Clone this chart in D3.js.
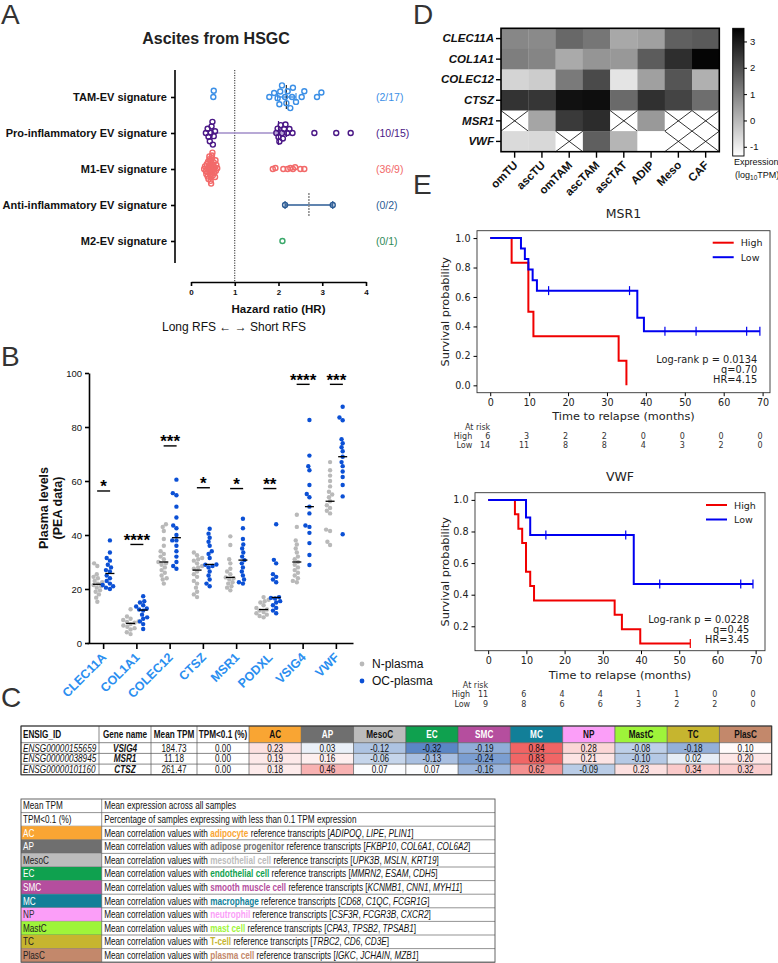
<!DOCTYPE html>
<html lang="en">
<head>
<meta charset="UTF-8">
<title>Figure</title>
<script src="https://cdn.jsdelivr.net/npm/d3@7"></script>
<style>
  body { margin: 0; background: #fff; }
  svg { display: block; }
</style>
</head>
<body>
<script>
// ---------------- panel A : hazard ratios per EV signature ----------------
const sigNames = ["TAM-EV signature", "Pro-inflammatory EV signature", "M1-EV signature",
                  "Anti-inflammatory EV signature", "M2-EV signature"];
const sigCounts = ["(2/17)", "(10/15)", "(36/9)", "(0/2)", "(0/1)"];
const sigColors = ["#3b8fe6", "#4a1786", "#f26a6a", "#2b5b94", "#3aa86a"];
const sigCountColors = ["#3b8fe6", "#4a1786", "#f26a6a", "#2b5b94", "#2e8b57"];
const sigBarColors = ["#3b8fe6", "#a08cc8", "#f26a6a", "#2b5b94", "#3aa86a"];
const hrTAM = [0.51, 0.52, 1.79, 1.90, 1.98, 2.02, 2.04, 2.08, 2.15, 2.18, 2.21, 2.27, 2.31, 2.33, 2.40, 2.53, 2.59, 2.88, 2.98];
const hrPro = [0.34, 0.38, 0.40, 0.43, 0.45, 0.47, 0.49, 0.50, 0.52, 0.55,
               1.95, 1.98, 2.00, 2.02, 2.05, 2.08, 2.10, 2.13, 2.16, 2.20, 2.25, 2.32, 2.82, 3.32, 3.65];
const hrM1 = [0.30, 0.32, 0.34, 0.35, 0.36, 0.37, 0.38, 0.39, 0.40, 0.40, 0.41, 0.42, 0.42, 0.43, 0.44, 0.44, 0.45, 0.45,
              0.46, 0.46, 0.47, 0.47, 0.48, 0.48, 0.49, 0.50, 0.50, 0.51, 0.52, 0.53, 0.54, 0.55, 0.56, 0.57, 0.58, 0.60,
              1.87, 1.93, 2.11, 2.21, 2.27, 2.33, 2.38, 2.50, 2.59];
const hrAnti = [2.15, 3.24];
const hrM2 = [2.09];
const hrGroups = [hrTAM, hrPro, hrM1, hrAnti, hrM2];
const hrTicks = [0, 1, 2, 3, 4];

// ---------------- panel B : plasma PEA levels ----------------
const plasmaProteins = ["CLEC11A", "COL1A1", "COLEC12", "CTSZ", "MSR1", "PODXL", "VSIG4", "VWF"];
const nPlasma = [
  [15.3, 16.8, 18, 19, 19.5, 20.5, 21, 21.5, 22, 22.5, 23, 24, 24.5, 25.5, 28.5, 29.5],
  [3.3, 4, 5, 5.5, 6, 6.5, 7, 7.5, 7.8, 8, 8.5, 9, 9.8, 12.5],
  [22, 23.5, 24, 25, 26, 27, 28, 29, 29.5, 30, 31, 32, 33, 34, 36, 38.5, 41.5, 43, 44],
  [17, 18, 19, 20.5, 22, 23, 24.5, 25.5, 26.5, 27.5, 28, 28.5, 29.5, 30.5, 31, 31.5, 32.5, 33.5],
  [19.5, 20.5, 21, 22, 22.5, 23.5, 24, 24.3, 25.5, 26.5, 27.5, 29.5, 31, 36.3, 39.5],
  [9.5, 10, 10.5, 11, 11.5, 12, 12.4, 13, 14, 15, 15.5, 16, 17],
  [22.5, 23, 24, 25, 26, 27, 28, 29, 30, 31, 32, 33.5, 35, 36.5, 38, 43, 47.5],
  [36.3, 37.5, 41.5, 42, 48, 49, 50, 51, 52.5, 54, 55, 56, 58, 60, 62, 64, 67]
];
const ocPlasma = [
  [20, 20.5, 21, 21.5, 22, 23, 24, 25, 26.5, 27, 28, 29, 30.5, 31.5, 33.5, 38],
  [5.2, 7, 8, 9, 9.5, 10.5, 12, 12.4, 12.8, 13.5, 14, 15, 15.5, 17.3],
  [27.5, 28.5, 30, 32, 34, 36, 38, 38, 40, 42.5, 43.5, 46.5, 50.5, 54.7, 55.5, 60.5],
  [21, 22, 23.5, 25, 26.5, 28, 28.5, 29, 29.1, 31.5, 33, 34, 36, 37.5, 39, 40.5, 42.3],
  [22, 22.5, 23.5, 25, 26.5, 28, 29.5, 30.7, 32, 33.5, 35, 36.5, 38.5, 42.5, 46],
  [11, 12, 13, 14, 15, 15.5, 16.5, 16.7, 17, 22.5, 23.5, 24.5, 25.5, 29.5, 30.8, 44],
  [28.9, 32.6, 37, 40.8, 43, 43.5, 48, 50.5, 54, 55.2, 58.5, 64, 65.5, 69.4, 82.6],
  [40.3, 54.3, 58.5, 61.5, 63.5, 65.5, 67, 69, 71, 72.5, 74, 75.5, 82.5, 83.5, 87.5]
];
const sigStars = ["*", "****", "***", "*", "*", "**", "****", "***"];
const sigBarLevels = [56.3, 36.5, 73, 57.5, 57.2, 57.2, 95.8, 95.8];
const plasmaTicks = [0, 20, 40, 60, 80, 100];

// ---------------- panel C : correlation table ----------------
const ensgIds = ["ENSG00000155659", "ENSG00000038945", "ENSG00000101160"];
const tableGenes = ["VSIG4", "MSR1", "CTSZ"];
const meanTPM = [184.73, 11.18, 261.47];
const tpmLow = [0, 0, 0];
const cellTypes = ["AC", "AP", "MesoC", "EC", "SMC", "MC", "NP", "MastC", "TC", "PlasC"];
const cellTypeColors = ["#f9a533", "#6f6f6f", "#bcbcbc", "#0fa14f", "#b54e9e", "#127f98", "#fb9ef8", "#9ef43a", "#c6b52f", "#c3886b"];
const headTextColors = ["#111", "#fff", "#111", "#fff", "#fff", "#fff", "#111", "#111", "#111", "#111"];
const legTextColors = ["#fff", "#fff", "#222", "#fff", "#fff", "#fff", "#333", "#222", "#222", "#222"];
const corrVSIG4 = [0.23, 0.03, -0.12, -0.32, -0.19, 0.84, 0.28, -0.08, -0.18, 0.10];
const corrMSR1 = [0.19, 0.16, -0.06, -0.13, -0.24, 0.83, 0.21, -0.10, 0.02, 0.20];
const corrCTSZ = [0.18, 0.46, 0.07, 0.07, -0.16, 0.62, -0.09, 0.23, 0.34, 0.32];
const corrRows = [corrVSIG4, corrMSR1, corrCTSZ];
const cellTypeNames = ["adipocyte", "adipose progenitor", "mesothelial cell", "endothelial cell", "smooth muscle cell",
                       "macrophage", "neutrophil", "mast cell", "T-cell", "plasma cell"];
const cellTypeMarkers = [["ADIPOQ", "LIPE", "PLIN1"], ["FKBP10", "COL6A1", "COL6A2"], ["UPK3B", "MSLN", "KRT19"],
                         ["MMRN2", "ESAM", "CDH5"], ["KCNMB1", "CNN1", "MYH11"], ["CD68", "C1QC", "FCGR1G"],
                         ["CSF3R", "FCGR3B", "CXCR2"], ["CPA3", "TPSB2", "TPSAB1"], ["TRBC2", "CD6", "CD3E"],
                         ["IGKC", "JCHAIN", "MZB1"]];

// ---------------- panel D : expression heatmap (log10 TPM) ----------------
const hmGenes = ["CLEC11A", "COL1A1", "COLEC12", "CTSZ", "MSR1", "VWF"];
const hmCells = ["omTU", "ascTU", "omTAM", "ascTAM", "ascTAT", "ADIP", "Meso", "CAF"];
const hmValues = [
  [0.93, 0.88, 1.52, 1.26, 0.30, 0.46, 1.67, 1.79],
  [1.10, 0.97, 0.27, 0.67, 0.61, 1.75, 2.63, 3.40],
  [-0.53, -0.38, 1.18, 2.09, -0.84, 0.46, 1.88, 0.15],
  [2.53, 2.47, 3.18, 3.23, 1.48, 2.59, 2.21, 1.41],
  [null, 0.36, 2.40, 2.66, null, 0.59, null, null],
  [-0.65, -0.61, null, 1.69, 0.06, -1.35, null, null]
];
const hmTicks = [-1, 0, 1, 2, 3];

// ---------------- panel E : Kaplan-Meier curves ----------------
const msr1HighTime = [0, 5.5, 9.8, 11.1, 33, 35];
const msr1HighSurv = [1, 0.833, 0.5, 0.333, 0.167, 0];
const msr1HighCens = [];
const msr1LowTime = [0, 7.9, 8.9, 9.8, 10.9, 12, 37.8, 39.5, 69.3];
const msr1LowSurv = [1, 0.929, 0.857, 0.786, 0.714, 0.643, 0.459, 0.367, 0.367];
const msr1LowCens = [15, 35.8, 44.9, 52.9, 65.9, 69.3];
const msr1RiskHigh = [6, 3, 2, 2, 0, 0, 0, 0];
const msr1RiskLow = [14, 11, 8, 8, 4, 3, 2, 0];
const msr1Stats = ["Log-rank p = 0.0134", "q=0.70", "HR=4.15"];
const vwfHighTime = [0, 7, 7.9, 8.9, 9.9, 11, 12, 33.1, 35, 39.8, 52.9];
const vwfHighSurv = [1, 0.909, 0.818, 0.727, 0.545, 0.455, 0.364, 0.273, 0.182, 0.091, 0.091];
const vwfHighCens = [52.9];
const vwfLowTime = [0, 9.9, 11, 38.1, 69.3];
const vwfLowSurv = [1, 0.889, 0.778, 0.467, 0.467];
const vwfLowCens = [15.1, 36, 44.9, 66.1, 69.3];
const vwfRiskHigh = [11, 6, 4, 4, 1, 1, 0, 0];
const vwfRiskLow = [9, 8, 6, 6, 3, 2, 2, 0];
const vwfStats = ["Log-rank p = 0.0228", "q=0.45", "HR=3.45"];
const monthTicks = [0, 10, 20, 30, 40, 50, 60, 70];

// ======================================================================
const ARIAL = "'Liberation Sans', Arial, sans-serif";
const DEJAVU = "'DejaVu Sans', sans-serif";

const svg = d3.select("body").append("svg")
    .attr("width", 778).attr("height", 963)
    .attr("font-family", ARIAL);
svg.append("rect").attr("width", 778).attr("height", 963).attr("fill", "#fff");

// panel letters
[["A", 1, 24], ["B", 1, 366], ["C", 1, 707], ["D", 413, 24], ["E", 413, 194]].forEach(function (p) {
    svg.append("text").attr("x", p[1]).attr("y", p[2]).attr("font-size", 28)
        .attr("fill", "#333").text(p[0]);
});

// quartiles the GraphPad way (position p*(n+1))
function quant(sorted, p) {
    const n = sorted.length, h = (n + 1) * p;
    if (h <= 1) return sorted[0];
    if (h >= n) return sorted[n - 1];
    const lo = Math.floor(h);
    return sorted[lo - 1] + (h - lo) * (sorted[lo] - sorted[lo - 1]);
}

// simple beeswarm: offsets perpendicular to the value axis
function swarm(vals, scale, d) {
    const order = vals.map(function (v, i) { return i; }).sort(function (a, b) { return vals[a] - vals[b]; });
    const placed = [], off = new Array(vals.length);
    order.forEach(function (i) {
        const p = scale(vals[i]);
        const bad = [];
        placed.forEach(function (q) {
            const dx = p - q.p;
            if (Math.abs(dx) < d) {
                const h = Math.sqrt(d * d - dx * dx);
                bad.push([q.o - h, q.o + h]);
            }
        });
        const cands = [0];
        bad.forEach(function (b) { cands.push(b[0], b[1]); });
        cands.sort(function (a, b) { return Math.abs(a) - Math.abs(b) || a - b; });
        let o = 0;
        for (const c of cands) {
            if (bad.every(function (b) { return c <= b[0] + 1e-6 || c >= b[1] - 1e-6; })) { o = c; break; }
        }
        placed.push({p: p, o: o});
        off[i] = o;
    });
    return off;
}

// ---------------------------- panel A ----------------------------
(function () {
    const g = svg.append("g");
    const x = d3.scaleLinear().domain([0, 4]).range([191, 366]);
    const y = d3.scalePoint().domain(sigNames).range([97, 241]);

    g.append("text").attr("x", 216).attr("y", 44).attr("text-anchor", "middle")
        .attr("font-size", 16).attr("font-weight", "bold").attr("fill", "#222").text("Ascites from HSGC");

    g.append("line").attr("x1", 175).attr("x2", 175).attr("y1", 70).attr("y2", 263)
        .attr("stroke", "#000").attr("stroke-width", 1.6);
    const ya = g.append("g").attr("transform", "translate(175,0)")
        .call(d3.axisLeft(y).tickSize(4).tickPadding(4));
    ya.select(".domain").remove();
    ya.selectAll("line").attr("stroke-width", 1.6);
    ya.selectAll("text").attr("font-family", ARIAL).attr("font-size", 11)
        .attr("font-weight", "bold").attr("fill", "#111");

    const xa = g.append("g").attr("transform", "translate(0,282)")
        .call(d3.axisBottom(x).tickValues(hrTicks).tickFormat(d3.format("d"))
            .tickSize(4).tickSizeOuter(0).tickPadding(3));
    xa.selectAll("path,line").attr("stroke-width", 1.6);
    xa.selectAll("text").attr("font-family", ARIAL).attr("font-size", 8)
        .attr("font-weight", "bold").attr("fill", "#111");

    g.append("line").attr("x1", x(1)).attr("x2", x(1)).attr("y1", 70).attr("y2", 282)
        .attr("stroke", "#222").attr("stroke-width", 1).attr("stroke-dasharray", "1.2,1.3");

    g.append("text").attr("x", x(2)).attr("y", 313).attr("text-anchor", "middle")
        .attr("font-size", 11.5).attr("font-weight", "bold").attr("fill", "#111").text("Hazard ratio (HR)");
    g.append("text").attr("x", 234).attr("y", 331).attr("text-anchor", "middle")
        .attr("font-size", 12).attr("fill", "#111").text("Long RFS \u2190  \u2192 Short RFS");

    const swarmD = [6.3, 4.6, 2.8, 6, 6];
    hrGroups.forEach(function (vals, i) {
        const cy = y(sigNames[i]);
        const s = vals.slice().sort(d3.ascending);
        const q1 = quant(s, 0.25), med = quant(s, 0.5), q3 = quant(s, 0.75);
        if (s.length > 1) {
            g.append("line").attr("x1", x(q1)).attr("x2", x(q3)).attr("y1", cy).attr("y2", cy)
                .attr("stroke", sigBarColors[i]).attr("stroke-width", 1.4);
            [q1, q3].forEach(function (q) {
                g.append("line").attr("x1", x(q)).attr("x2", x(q)).attr("y1", cy - 4).attr("y2", cy + 4)
                    .attr("stroke", sigColors[i]).attr("stroke-width", 1.2);
            });
            g.append("line").attr("x1", x(med)).attr("x2", x(med)).attr("y1", cy - 12).attr("y2", cy + 12)
                .attr("stroke", i === 3 ? "#888" : (i === 0 ? "#333" : sigColors[i]))
                .attr("stroke-width", i === 3 ? 1.5 : 1.2)
                .attr("stroke-dasharray", i === 3 ? "2,1" : null);
        }
        const off = swarm(vals, x, swarmD[i]);
        g.selectAll(null).data(vals).enter().append("circle")
            .attr("cx", function (d) { return x(d); })
            .attr("cy", function (d, k) { return cy + off[k]; })
            .attr("r", 2.5).attr("fill", "none")
            .attr("stroke", sigColors[i]).attr("stroke-width", 1.4);
        g.append("text").attr("x", 376).attr("y", cy + 3.8).attr("font-size", 10.5)
            .attr("fill", sigCountColors[i]).text(sigCounts[i]);
    });
})();

// ---------------------------- panel B ----------------------------
(function () {
    const g = svg.append("g");
    const x = d3.scaleBand().domain(plasmaProteins).range([87, 353]);
    const y = d3.scaleLinear().domain([0, 100]).range([643, 373]);
    const nCol = "#b9b9b9", ocCol = "#0b50d5";

    const ya = g.append("g").attr("transform", "translate(89,0)")
        .call(d3.axisLeft(y).tickValues(plasmaTicks).tickSize(4).tickSizeOuter(0).tickPadding(3));
    ya.selectAll("path,line").attr("stroke-width", 1.6);
    ya.selectAll("text").attr("font-family", ARIAL).attr("font-size", 9.5).attr("fill", "#111");

    const xa = g.append("g").attr("transform", "translate(0,643)")
        .call(d3.axisBottom(x).tickSize(6).tickSizeOuter(0));
    xa.selectAll("path,line").attr("stroke-width", 1.6);
    xa.selectAll("text").remove();
    plasmaProteins.forEach(function (p) {
        const cx = x(p) + x.bandwidth() / 2;
        g.append("text").attr("transform", "translate(" + (cx + 0.5) + ",655) rotate(-45)")
            .attr("text-anchor", "end").attr("dy", "0.35em")
            .attr("font-size", 12.5).attr("font-weight", "bold").attr("fill", "#2a8ef0").text(p);
    });

    g.append("text").attr("transform", "translate(47.5,508) rotate(-90)").attr("text-anchor", "middle")
        .attr("font-size", 12.5).attr("font-weight", "bold").attr("fill", "#111").text("Plasma levels");
    g.append("text").attr("transform", "translate(61.5,508) rotate(-90)").attr("text-anchor", "middle")
        .attr("font-size", 12.5).attr("font-weight", "bold").attr("fill", "#111").text("(PEA data)");

    plasmaProteins.forEach(function (p, i) {
        const cx = x(p) + x.bandwidth() / 2;
        [[nPlasma[i], cx - 6.3, nCol], [ocPlasma[i], cx + 6.3, ocCol]].forEach(function (grp) {
            const vals = grp[0], off = swarm(vals, y, 4.2);
            g.selectAll(null).data(vals).enter().append("circle")
                .attr("cx", function (d, k) { return grp[1] + off[k]; })
                .attr("cy", function (d) { return y(d); })
                .attr("r", 2.2).attr("fill", grp[2]);
            const med = d3.median(vals);
            g.append("line").attr("x1", grp[1] - 4.5).attr("x2", grp[1] + 4.5)
                .attr("y1", y(med)).attr("y2", y(med)).attr("stroke", "#000").attr("stroke-width", 1.3);
        });
        const by = y(sigBarLevels[i]);
        g.append("line").attr("x1", cx - 6.5).attr("x2", cx + 6.5).attr("y1", by).attr("y2", by)
            .attr("stroke", "#000").attr("stroke-width", 1.4);
        g.append("text").attr("x", cx).attr("y", by + 1.5).attr("text-anchor", "middle")
            .attr("font-size", 17).attr("font-weight", "bold").attr("fill", "#000").text(sigStars[i]);
    });

    [["N-plasma", nCol, 664], ["OC-plasma", ocCol, 681]].forEach(function (l) {
        g.append("circle").attr("cx", 362).attr("cy", l[2]).attr("r", 2.4).attr("fill", l[1]);
        g.append("text").attr("x", 372).attr("y", l[2] + 4.2).attr("font-size", 12)
            .attr("fill", "#111").text(l[0]);
    });
})();

// ---------------------------- panel D ----------------------------
(function () {
    const g = svg.append("g");
    const x = d3.scaleBand().domain(hmCells).range([501, 719.3]);
    const y = d3.scaleBand().domain(hmGenes).range([28.3, 151.7]);
    const grey = d3.scaleLinear().domain([-1.35, 3.5]).range(["#ffffff", "#000000"]);

    hmGenes.forEach(function (gene, r) {
        hmCells.forEach(function (cell, c) {
            const v = hmValues[r][c];
            const x0 = x(cell), y0 = y(gene), w = x.bandwidth(), h = y.bandwidth();
            g.append("rect").attr("x", x0).attr("y", y0).attr("width", w + 0.3).attr("height", h + 0.3)
                .attr("fill", v === null ? "#fff" : grey(v));
            if (v === null) {
                g.append("line").attr("x1", x0).attr("y1", y0).attr("x2", x0 + w).attr("y2", y0 + h)
                    .attr("stroke", "#000").attr("stroke-width", 0.8);
                g.append("line").attr("x1", x0).attr("y1", y0 + h).attr("x2", x0 + w).attr("y2", y0)
                    .attr("stroke", "#000").attr("stroke-width", 0.8);
            }
        });
    });
    g.append("rect").attr("x", 501).attr("y", 28.3).attr("width", 218.3).attr("height", 123.4)
        .attr("fill", "none").attr("stroke", "#000").attr("stroke-width", 1.6);

    const ya = g.append("g").attr("transform", "translate(501,0)").call(d3.axisLeft(y).tickSize(5).tickPadding(2));
    ya.select(".domain").remove();
    ya.selectAll("line").attr("stroke-width", 1.4);
    ya.selectAll("text").attr("font-family", ARIAL).attr("font-size", 11.5).attr("font-weight", "bold")
        .attr("font-style", "italic").attr("fill", "#111");

    const xa = g.append("g").attr("transform", "translate(0,151.7)").call(d3.axisBottom(x).tickSize(6).tickSizeOuter(0));
    xa.select(".domain").remove();
    xa.selectAll("line").attr("stroke-width", 1.4);
    xa.selectAll("text").remove();
    hmCells.forEach(function (c) {
        const cx = x(c) + x.bandwidth() / 2;
        g.append("text").attr("transform", "translate(" + (cx + 1) + ",163) rotate(-45)")
            .attr("text-anchor", "end").attr("dy", "0.35em")
            .attr("font-size", 11.5).attr("font-weight", "bold").attr("fill", "#111").text(c);
    });

    // colour bar
    const cb = d3.scaleLinear().domain([-1.35, 3.5]).range([156, 28.3]);
    const grad = svg.append("defs").append("linearGradient").attr("id", "cbGrad")
        .attr("x1", 0).attr("y1", 1).attr("x2", 0).attr("y2", 0);
    grad.append("stop").attr("offset", 0).attr("stop-color", grey(-1.35));
    grad.append("stop").attr("offset", 1).attr("stop-color", grey(3.5));
    g.append("rect").attr("x", 732.7).attr("y", cb(3.5)).attr("width", 11.3).attr("height", cb(-1.35) - cb(3.5))
        .attr("fill", "url(#cbGrad)").attr("stroke", "#000").attr("stroke-width", 0.9);
    const ca = g.append("g").attr("transform", "translate(744,0)")
        .call(d3.axisRight(cb).tickValues(hmTicks).tickFormat(function (d) { return String(d); })
            .tickSize(3).tickPadding(3));
    ca.select(".domain").remove();
    ca.selectAll("text").attr("font-family", ARIAL).attr("font-size", 9.5).attr("fill", "#111");
    g.append("text").attr("x", 734).attr("y", 165).attr("font-size", 9).attr("fill", "#111").text("Expression");
    const t2 = g.append("text").attr("x", 735).attr("y", 178).attr("font-size", 9).attr("fill", "#111");
    t2.append("tspan").text("(log");
    t2.append("tspan").attr("font-size", 6.5).attr("dy", 2).text("10");
    t2.append("tspan").attr("dy", -2).text("TPM)");
})();

// ---------------------------- panel E ----------------------------
function drawKM(o) {
    const g = svg.append("g").attr("font-family", DEJAVU);
    const x = d3.scaleLinear().domain(o.xDom).range([o.left, o.right]);
    const y = d3.scaleLinear().domain(o.yDom).range([o.bottom, o.top]);
    const line = d3.line().x(function (d) { return x(d[0]); }).y(function (d) { return y(d[1]); })
        .curve(d3.curveStepAfter);

    g.append("text").attr("x", (o.left + o.right) / 2).attr("y", o.titleY).attr("text-anchor", "middle")
        .attr("font-size", 12.5).attr("fill", "#222").text(o.title);

    o.series.forEach(function (s) {
        const pts = s.time.map(function (t, i) { return [t, s.surv[i]]; });
        g.append("path").attr("d", line(pts)).attr("fill", "none")
            .attr("stroke", s.color).attr("stroke-width", 2);
        s.cens.forEach(function (c) {
            const v = s.surv[d3.bisectRight(s.time, c) - 1];
            g.append("line").attr("x1", x(c)).attr("x2", x(c)).attr("y1", y(v) - 4.5).attr("y2", y(v) + 4.5)
                .attr("stroke", s.color).attr("stroke-width", 1.2);
        });
    });

    g.append("rect").attr("x", o.left).attr("y", o.top).attr("width", o.right - o.left)
        .attr("height", o.bottom - o.top).attr("fill", "none").attr("stroke", "#333").attr("stroke-width", 0.9);

    const xa = g.append("g").attr("transform", "translate(0," + o.bottom + ")")
        .call(d3.axisBottom(x).tickValues(monthTicks).tickSize(3.5).tickPadding(3));
    xa.select(".domain").remove();
    xa.selectAll("text").attr("font-family", DEJAVU).attr("font-size", 9.6).attr("fill", "#222");
    const ya = g.append("g").attr("transform", "translate(" + o.left + ",0)")
        .call(d3.axisLeft(y).tickValues(o.yTicks).tickFormat(d3.format(".1f")).tickSize(3.5).tickPadding(3));
    ya.select(".domain").remove();
    ya.selectAll("text").attr("font-family", DEJAVU).attr("font-size", 9.6).attr("fill", "#222");

    g.append("text").attr("x", (o.left + o.right) / 2).attr("y", o.xLabelY).attr("text-anchor", "middle")
        .attr("font-size", 11.3).attr("fill", "#222").text("Time to relapse (months)");
    g.append("text").attr("transform", "translate(449," + (o.top + o.bottom) / 2 + ") rotate(-90)")
        .attr("text-anchor", "middle").attr("font-size", 11.3).attr("fill", "#222").text("Survival probability");

    // legend
    o.series.forEach(function (s, i) {
        const ly = o.legendY + i * 14.5;
        g.append("line").attr("x1", o.legendX).attr("x2", o.legendX + 21).attr("y1", ly).attr("y2", ly)
            .attr("stroke", s.color).attr("stroke-width", 2);
        g.append("text").attr("x", o.legendX + 28).attr("y", ly + 3.5).attr("font-size", 9.5)
            .attr("fill", "#222").text(s.name);
    });

    o.stats.forEach(function (t, i) {
        g.append("text").attr("x", o.statsX).attr("y", o.statsY + i * 10.4).attr("text-anchor", "end")
            .attr("font-size", 9.8).attr("fill", "#222").text(t);
    });

    // at-risk table
    g.append("text").attr("x", x(0)).attr("y", o.riskY).attr("text-anchor", "end")
        .attr("font-size", 8).attr("fill", "#333").text("At risk");
    o.series.forEach(function (s, i) {
        const ry = o.riskY + 9.3 * (i + 1);
        g.append("text").attr("x", x(0) - 18).attr("y", ry).attr("text-anchor", "end")
            .attr("font-size", 8).attr("fill", "#333").text(s.name);
        monthTicks.forEach(function (t, k) {
            g.append("text").attr("x", x(t)).attr("y", ry).attr("text-anchor", "end")
                .attr("font-size", 8).attr("fill", "#333").text(s.risk[k]);
        });
    });
}

drawKM({
    title: "MSR1", titleY: 217.5, left: 477, right: 770, top: 230.7, bottom: 392.7,
    xDom: [-3.4, 71.9], yDom: [-0.05, 1.05], yTicks: [0, 0.2, 0.4, 0.6, 0.8, 1.0],
    xLabelY: 419.5, legendX: 712.7, legendY: 242.7, statsX: 757.3, statsY: 362.5, riskY: 429.5,
    stats: msr1Stats,
    series: [
        {name: "High", color: "#f00000", time: msr1HighTime, surv: msr1HighSurv, cens: msr1HighCens, risk: msr1RiskHigh},
        {name: "Low", color: "#0000f0", time: msr1LowTime, surv: msr1LowSurv, cens: msr1LowCens, risk: msr1RiskLow}
    ]
});
drawKM({
    title: "VWF", titleY: 481, left: 475, right: 765, top: 492.7, bottom: 650.7,
    xDom: [-3.45, 72.45], yDom: [0.0455, 1.0455], yTicks: [0.2, 0.4, 0.6, 0.8, 1.0],
    xLabelY: 679, legendX: 706, legendY: 505, statsX: 749.3, statsY: 622.5, riskY: 688,
    stats: vwfStats,
    series: [
        {name: "High", color: "#f00000", time: vwfHighTime, surv: vwfHighSurv, cens: vwfHighCens, risk: vwfRiskHigh},
        {name: "Low", color: "#0000f0", time: vwfLowTime, surv: vwfLowSurv, cens: vwfLowCens, risk: vwfRiskLow}
    ]
});

// ---------------------------- panel C ----------------------------
(function () {
    const g = svg.append("g");
    // narrow face if installed, otherwise squeeze the regular one
    const probe = svg.append("text").attr("font-size", 20)
        .attr("font-family", "'Liberation Sans Narrow', 'Liberation Sans'").text("Mean correlation values");
    const wN = probe.node().getComputedTextLength();
    probe.attr("font-family", "'Liberation Sans'");
    const wR = probe.node().getComputedTextLength();
    probe.remove();
    const hasNarrow = wN < wR * 0.93;
    const nFont = hasNarrow ? "'Liberation Sans Narrow', 'Liberation Sans'" : "'Liberation Sans'";
    const sq = hasNarrow ? 1 : 0.82;
    function ntext(x, y, anchor) {
        return g.append("text").attr("transform", "translate(" + x + "," + y + ") scale(" + sq + ",1)")
            .attr("font-family", nFont).attr("font-size", 10).attr("fill", "#111")
            .attr("text-anchor", anchor || "start");
    }

    const corr = d3.scaleLinear().domain([-0.32, 0.08, 0.84]).range(["#5a86c5", "#ffffff", "#f06464"]);
    const xT = d3.scaleBand().domain(cellTypes).range([249, 771.7]);
    const fixedEdges = [21, 99, 151, 197, 249];
    const fixedHeads = ["ENSIG_ID", "Gene name", "Mean TPM", "TPM<0.1 (%)"];
    const top = 726, headH = 16.7, rowH = 10.7;
    const rowTop = function (r) { return top + headH + r * rowH; };
    const bottom = rowTop(3);

    cellTypes.forEach(function (c, i) {
        g.append("rect").attr("x", xT(c)).attr("y", top).attr("width", xT.bandwidth()).attr("height", headH)
            .attr("fill", cellTypeColors[i]);
        ntext(xT(c) + xT.bandwidth() / 2, top + headH / 2 + 3.5, "middle").attr("font-weight", "bold")
            .attr("fill", headTextColors[i]).text(c);
        corrRows.forEach(function (row, r) {
            g.append("rect").attr("x", xT(c)).attr("y", rowTop(r)).attr("width", xT.bandwidth()).attr("height", rowH)
                .attr("fill", corr(row[i]));
            ntext(xT(c) + xT.bandwidth() / 2, rowTop(r) + rowH / 2 + 3.5, "middle").text(row[i].toFixed(2));
        });
    });
    fixedHeads.forEach(function (h, k) {
        const cx = k === 0 ? fixedEdges[0] + 2 : (fixedEdges[k] + fixedEdges[k + 1]) / 2;
        ntext(cx, top + headH / 2 + 3.5, k === 0 ? "start" : "middle").attr("font-weight", "bold").text(h);
    });
    ensgIds.forEach(function (id, r) {
        const cy = rowTop(r) + rowH / 2 + 3.5;
        ntext(fixedEdges[0] + 2, cy).attr("font-style", "italic").text(id);
        ntext((fixedEdges[1] + fixedEdges[2]) / 2, cy, "middle").attr("font-weight", "bold")
            .attr("font-style", "italic").text(tableGenes[r]);
        ntext((fixedEdges[2] + fixedEdges[3]) / 2, cy, "middle").text(meanTPM[r].toFixed(2));
        ntext((fixedEdges[3] + fixedEdges[4]) / 2, cy, "middle").text(tpmLow[r].toFixed(2));
    });
    // grid
    const vx = fixedEdges.concat(cellTypes.map(function (c) { return xT(c) + xT.bandwidth(); }));
    vx.forEach(function (v) {
        g.append("line").attr("x1", v).attr("x2", v).attr("y1", top).attr("y2", bottom)
            .attr("stroke", "#555").attr("stroke-width", 0.7);
    });
    [top, rowTop(0), rowTop(1), rowTop(2), bottom].forEach(function (h) {
        g.append("line").attr("x1", 21).attr("x2", 771.7).attr("y1", h).attr("y2", h)
            .attr("stroke", "#555").attr("stroke-width", 0.7);
    });
    g.append("rect").attr("x", 21).attr("y", top).attr("width", 750.7).attr("height", bottom - top)
        .attr("fill", "none").attr("stroke", "#333").attr("stroke-width", 1);

    // legend table
    const lTop = 799, lRow = 13.6, lMid = 101.7, lRight = 495;
    const legKeys = ["Mean TPM", "TPM<0.1 (%)"].concat(cellTypes);
    legKeys.forEach(function (k, i) {
        const ry = lTop + i * lRow;
        const ti = i - 2;
        if (ti >= 0) {
            g.append("rect").attr("x", 21).attr("y", ry).attr("width", lMid - 21).attr("height", lRow)
                .attr("fill", cellTypeColors[ti]);
        }
        ntext(23, ry + lRow / 2 + 3.5).attr("fill", ti >= 0 ? legTextColors[ti] : "#111").text(k);
        const t = ntext(lMid + 2.5, ry + lRow / 2 + 3.5);
        if (i === 0) t.text("Mean expression across all samples");
        else if (i === 1) t.text("Percentage of samples expressing with less than 0.1 TPM expression");
        else {
            t.append("tspan").text("Mean correlation values with ");
            t.append("tspan").attr("fill", cellTypeColors[ti]).attr("font-weight", "bold").text(cellTypeNames[ti]);
            t.append("tspan").text(" reference transcripts [");
            cellTypeMarkers[ti].forEach(function (m, j) {
                t.append("tspan").attr("font-style", "italic").text(m);
                if (j < cellTypeMarkers[ti].length - 1) t.append("tspan").text(", ");
            });
            t.append("tspan").text("]");
        }
        g.append("line").attr("x1", 21).attr("x2", lRight).attr("y1", ry + lRow).attr("y2", ry + lRow)
            .attr("stroke", "#666").attr("stroke-width", 0.7);
    });
    g.append("line").attr("x1", lMid).attr("x2", lMid).attr("y1", lTop).attr("y2", lTop + legKeys.length * lRow)
        .attr("stroke", "#666").attr("stroke-width", 0.7);
    g.append("rect").attr("x", 21).attr("y", lTop).attr("width", lRight - 21).attr("height", legKeys.length * lRow)
        .attr("fill", "none").attr("stroke", "#555").attr("stroke-width", 0.9);
})();
</script>
</body>
</html>
